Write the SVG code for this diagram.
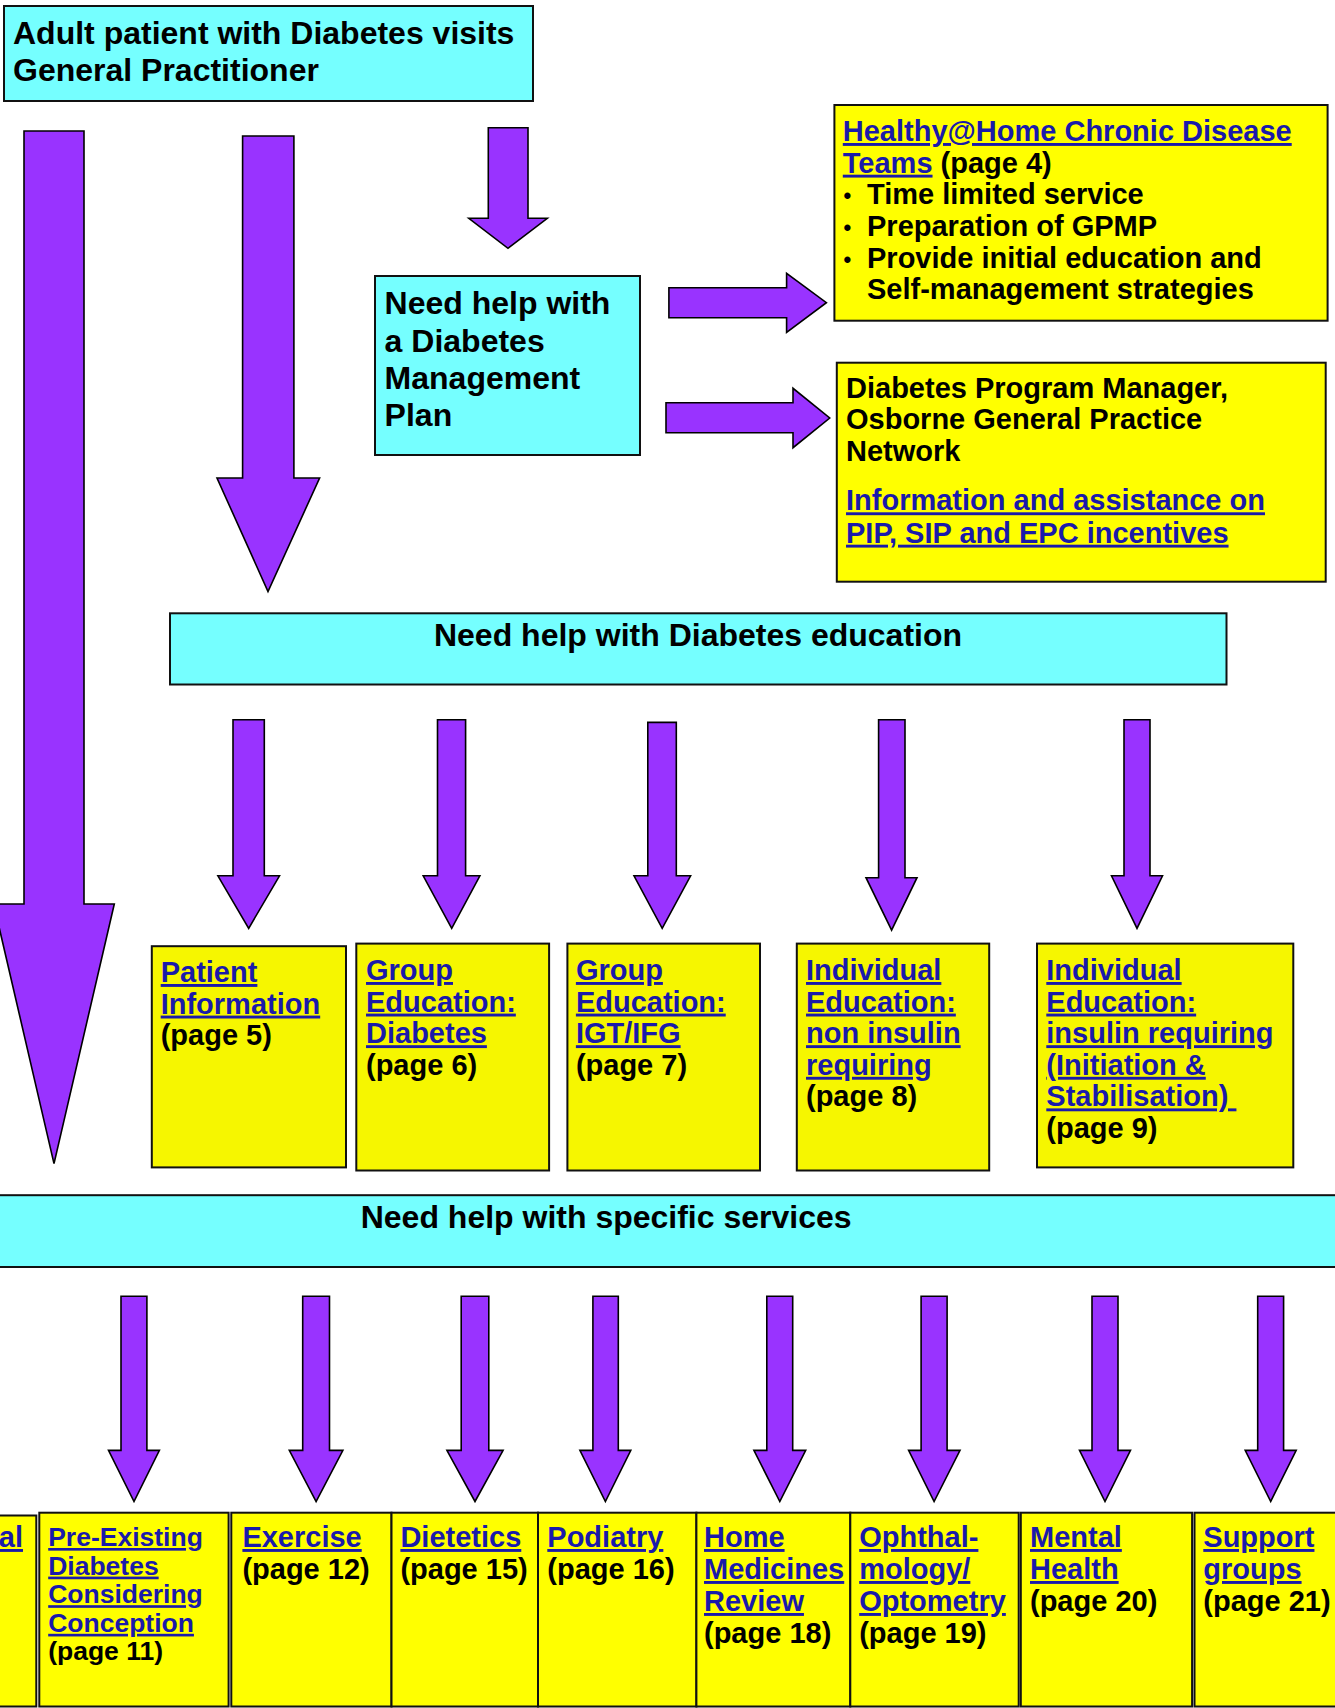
<svg xmlns="http://www.w3.org/2000/svg" width="1335" height="1708" viewBox="0 0 1335 1708">
<style>
.cy{fill:#75FFFF;stroke:#111;stroke-width:2}
.yl{fill:#FFFF00;stroke:#111;stroke-width:2}
.yl1{fill:#F6F600;stroke:#111;stroke-width:2}
.ar{fill:#9933FF;stroke:#000;stroke-width:1.6;stroke-linejoin:miter}
text{font-family:"Liberation Sans",Arial,Helvetica,sans-serif;font-weight:bold;fill:#000}
.f32{font-size:32px}
.f29{font-size:29px}
.f26{font-size:26.5px}
.bl{font-size:22px}
.lk{fill:#1A1AAA;text-decoration:underline}
</style>
<rect width="1335" height="1708" fill="#FFFFFF"/>

<g id="connectors">
<path class="ar" d="M24,131 L84,131 L84,904 L114.3,904 L54,1163.6 L-6.3,904 L24,904 Z"/>
<path class="ar" d="M242.6,136 L293.9,136 L293.9,478 L319.6,478 L268,591.5 L217,478 L242.6,478 Z"/>
<path class="ar" d="M488.3,127.7 L528,127.7 L528,218.3 L547.3,218.3 L508,248.3 L468.8,218.3 L488.3,218.3 Z"/>
<path class="ar" d="M668.9,287.7 L786.6,287.7 L786.6,273.3 L826.4,302.7 L786.6,332.3 L786.6,317.7 L668.9,317.7 Z"/>
<path class="ar" d="M666,402.7 L793,402.7 L793,388.3 L829.7,418 L793,447.7 L793,432.7 L666,432.7 Z"/>
<path class="ar" d="M233,719.7 L264.3,719.7 L264.3,875.8 L279.5,875.8 L248.7,928.3 L217.9,875.8 L233,875.8 Z"/>
<path class="ar" d="M437.5,719.7 L465.6,719.7 L465.6,875.8 L479.9,875.8 L451.7,928.3 L423.2,875.8 L437.5,875.8 Z"/>
<path class="ar" d="M647.8,722.4 L676.3,722.4 L676.3,875.8 L690.6,875.8 L662.2,928.3 L634,875.8 L647.8,875.8 Z"/>
<path class="ar" d="M878.6,719.7 L905,719.7 L905,877.7 L917,877.7 L891.6,930.2 L866,877.7 L878.6,877.7 Z"/>
<path class="ar" d="M1124,719.7 L1150,719.7 L1150,875.8 L1162.5,875.8 L1137,928.3 L1111.5,875.8 L1124,875.8 Z"/>
<path class="ar" d="M121,1296.2 L146.9,1296.2 L146.9,1450.4 L159.4,1450.4 L134,1501.5 L108.5,1450.4 L121,1450.4 Z"/>
<path class="ar" d="M302.7,1296.2 L329.5,1296.2 L329.5,1450.4 L342.9,1450.4 L316.1,1501.5 L289.3,1450.4 L302.7,1450.4 Z"/>
<path class="ar" d="M461.2,1296.2 L488.8,1296.2 L488.8,1450.4 L503.1,1450.4 L475,1501.5 L446.9,1450.4 L461.2,1450.4 Z"/>
<path class="ar" d="M592.9,1296.2 L618.3,1296.2 L618.3,1450.4 L630.8,1450.4 L605.4,1501.5 L579.9,1450.4 L592.9,1450.4 Z"/>
<path class="ar" d="M766.8,1296.2 L792.7,1296.2 L792.7,1450.4 L805.7,1450.4 L779.8,1501.5 L753.9,1450.4 L766.8,1450.4 Z"/>
<path class="ar" d="M921.1,1296.2 L947.1,1296.2 L947.1,1450.4 L960,1450.4 L934.1,1501.5 L908.6,1450.4 L921.1,1450.4 Z"/>
<path class="ar" d="M1092,1296.2 L1118,1296.2 L1118,1450.4 L1130.5,1450.4 L1105,1501.5 L1079.5,1450.4 L1092,1450.4 Z"/>
<path class="ar" d="M1257.7,1296.2 L1283.6,1296.2 L1283.6,1450.4 L1296.2,1450.4 L1270.7,1501.5 L1245.2,1450.4 L1257.7,1450.4 Z"/>
</g>

<g id="gp-visit">
<rect class="cy" x="4" y="6" width="529" height="95"/>
<text class="f32" x="13" y="44.3">Adult patient with Diabetes visits<tspan x="13" dy="37">General Practitioner</tspan></text>
</g>

<g id="management-plan">
<rect class="cy" x="375" y="276" width="265" height="179"/>
<text class="f32" x="384.6" y="314.3">Need help with<tspan x="384.6" dy="37.2">a Diabetes</tspan><tspan x="384.6" dy="37.2">Management</tspan><tspan x="384.6" dy="37.2">Plan</tspan></text>
</g>

<g id="healthy-home">
<rect class="yl" x="834.4" y="105" width="493.2" height="215.7"/>
<text class="f29" x="842.8" y="141"><tspan class="lk">Healthy@Home Chronic Disease</tspan><tspan x="842.8" dy="31.7" class="lk">Teams</tspan><tspan> (page 4)</tspan></text>
<text class="bl" x="843.5" y="203.3">•<tspan x="843.5" dy="31.7">•</tspan><tspan x="843.5" dy="31.7">•</tspan></text>
<text class="f29" x="867" y="204.3">Time limited service<tspan x="867" dy="31.7">Preparation of GPMP</tspan><tspan x="867" dy="31.7">Provide initial education and</tspan><tspan x="867" dy="31.7">Self-management strategies</tspan></text>
</g>

<g id="program-manager">
<rect class="yl" x="836.8" y="362.7" width="488.9" height="219"/>
<text class="f29" x="846" y="397.7">Diabetes Program Manager,<tspan x="846" dy="31.7">Osborne General Practice</tspan><tspan x="846" dy="31.7">Network</tspan></text>
<text class="f29" x="846" y="510.3"><tspan class="lk">Information and assistance on</tspan><tspan x="846" dy="32.4" class="lk">PIP, SIP and EPC incentives</tspan></text>
</g>

<g id="education">
<rect class="cy" x="170" y="613.3" width="1056.5" height="71.2"/>
<text class="f32" x="698" y="646" text-anchor="middle">Need help with Diabetes education</text>
</g>

<g id="patient-information">
<rect class="yl1" x="151.8" y="946.2" width="194.2" height="221.2"/>
<text class="f29" x="160.7" y="982"><tspan class="lk">Patient</tspan><tspan x="160.7" dy="31.6" class="lk">Information</tspan><tspan x="160.7" dy="31.6">(page 5)</tspan></text>
</g>

<g id="group-education-diabetes">
<rect class="yl1" x="356.3" y="943.6" width="192.8" height="226.9"/>
<text class="f29" x="366" y="980"><tspan class="lk">Group</tspan><tspan x="366" dy="31.6" class="lk">Education:</tspan><tspan x="366" dy="31.6" class="lk">Diabetes</tspan><tspan x="366" dy="31.6">(page 6)</tspan></text>
</g>

<g id="group-education-igt">
<rect class="yl1" x="567.4" y="943.6" width="192.6" height="226.9"/>
<text class="f29" x="575.9" y="980"><tspan class="lk">Group</tspan><tspan x="575.9" dy="31.6" class="lk">Education:</tspan><tspan x="575.9" dy="31.6" class="lk">IGT/IFG</tspan><tspan x="575.9" dy="31.6">(page 7)</tspan></text>
</g>

<g id="individual-non-insulin">
<rect class="yl1" x="796.8" y="943.6" width="192.4" height="226.9"/>
<text class="f29" x="806" y="980"><tspan class="lk">Individual</tspan><tspan x="806" dy="31.6" class="lk">Education:</tspan><tspan x="806" dy="31.6" class="lk">non insulin</tspan><tspan x="806" dy="31.6" class="lk">requiring</tspan><tspan x="806" dy="31.6">(page 8)</tspan></text>
</g>

<g id="individual-insulin">
<rect class="yl1" x="1037" y="943.6" width="256.3" height="223.8"/>
<text class="f29" x="1046.3" y="980"><tspan class="lk">Individual</tspan><tspan x="1046.3" dy="31.6" class="lk">Education:</tspan><tspan x="1046.3" dy="31.6" class="lk">insulin requiring</tspan><tspan x="1046.3" dy="31.6" class="lk">(Initiation &amp;</tspan><tspan x="1046.3" dy="31.6" class="lk">Stabilisation)&#160;</tspan><tspan x="1046.3" dy="31.6">(page 9)</tspan></text>
</g>

<g id="specific-services">
<rect class="cy" x="-10" y="1195.2" width="1355" height="71.8"/>
<text class="f32" x="360.7" y="1227.5">Need help with specific services</text>
</g>

<g id="partial-service">
<rect class="yl" x="-10" y="1515.5" width="46.3" height="191"/>
<text class="f29" x="23" y="1547" text-anchor="end"><tspan class="lk">al</tspan></text>
</g>

<g id="pre-existing">
<rect class="yl" x="39.3" y="1512.7" width="189.3" height="193.8"/>
<text class="f26" x="48.2" y="1546"><tspan class="lk">Pre-Existing</tspan><tspan x="48.2" dy="28.6" class="lk">Diabetes</tspan><tspan x="48.2" dy="28.6" class="lk">Considering</tspan><tspan x="48.2" dy="28.6" class="lk">Conception</tspan><tspan x="48.2" dy="28.6">(page 11)</tspan></text>
</g>

<g id="exercise">
<rect class="yl" x="231.3" y="1512.7" width="160.2" height="193.8"/>
<text class="f29" x="242.4" y="1547"><tspan class="lk">Exercise</tspan><tspan x="242.4" dy="32">(page 12)</tspan></text>
</g>

<g id="dietetics">
<rect class="yl" x="391.5" y="1512.7" width="146.5" height="193.8"/>
<text class="f29" x="400.4" y="1547"><tspan class="lk">Dietetics</tspan><tspan x="400.4" dy="32">(page 15)</tspan></text>
</g>

<g id="podiatry">
<rect class="yl" x="538" y="1512.7" width="158.4" height="193.8"/>
<text class="f29" x="547.3" y="1547"><tspan class="lk">Podiatry</tspan><tspan x="547.3" dy="32">(page 16)</tspan></text>
</g>

<g id="home-medicines">
<rect class="yl" x="696.4" y="1512.7" width="153.9" height="193.8"/>
<text class="f29" x="704" y="1547"><tspan class="lk">Home</tspan><tspan x="704" dy="32" class="lk">Medicines</tspan><tspan x="704" dy="32" class="lk">Review</tspan><tspan x="704" dy="32">(page 18)</tspan></text>
</g>

<g id="ophthalmology">
<rect class="yl" x="850.3" y="1512.7" width="168.4" height="193.8"/>
<text class="f29" x="859.2" y="1547"><tspan class="lk">Ophthal-</tspan><tspan x="859.2" dy="32" class="lk">mology/</tspan><tspan x="859.2" dy="32" class="lk">Optometry</tspan><tspan x="859.2" dy="32">(page 19)</tspan></text>
</g>

<g id="mental-health">
<rect class="yl" x="1020.8" y="1512.7" width="171.3" height="193.8"/>
<text class="f29" x="1030" y="1547"><tspan class="lk">Mental</tspan><tspan x="1030" dy="32" class="lk">Health</tspan><tspan x="1030" dy="32">(page 20)</tspan></text>
</g>

<g id="support-groups">
<rect class="yl" x="1194.5" y="1512.7" width="150" height="193.8"/>
<text class="f29" x="1203.3" y="1547"><tspan class="lk">Support</tspan><tspan x="1203.3" dy="32" class="lk">groups</tspan><tspan x="1203.3" dy="32">(page 21)</tspan></text>
</g>
</svg>
